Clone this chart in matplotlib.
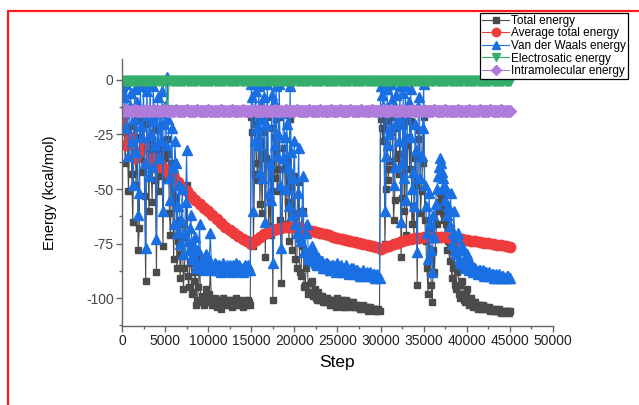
import numpy as np
import matplotlib
matplotlib.use("Agg")
import matplotlib.pyplot as plt
from matplotlib.lines import Line2D
from matplotlib.ticker import MultipleLocator

plt.rcParams["font.family"] = ["Liberation Sans", "DejaVu Sans"]
plt.rcParams["axes.unicode_minus"] = False

# MD steps: energies sampled every 125 steps, constant terms every 250, running average every 500
steps_fine = np.arange(0, 45001, 125)
steps_mid = np.arange(0, 45001, 250)
steps_coarse = np.arange(0, 45001, 500)

vdw_energy = [
    # 0 - 14875
    -3, -6, -8, -22, -2, -14, -35, -12, -6, -28, -48, -18, -4, -33, -10, -62, -52, -3, -21, -26,
    -3, -38, -77, -5, -16, -44, -2, -25, -40, -3, -19, -30, -73, -8, -36, -15, -28, -5, -60, -20,
    -12, -30, 1.5, -18, -45, -55, -22, -40, -66, -28, -38, -70, -58, -48, -75, -64, -50, -80, -70, -56,
    -32, -74, -78, -68, -62, -82, -80, -76, -72, -86, -84, -78, -66, -85, -83, -86, -87, -84, -80, -86,
    -85, -82, -70, -85, -86, -87, -84, -86, -87, -85, -85, -87, -88, -86, -84, -87, -86, -85, -87, -86,
    -85, -87, -88, -85, -86, -87, -84, -86, -87, -85, -86, -87, -88, -86, -85, -86, -87, -85, -86, -87,
    # 15000 - 29875
    -2, -8, -60, -28, -5, -22, -30, -3, -42, -12, -45, -18, -8, -65, -20, -2, -52, -38, -55, -7,
    -84, -10, -30, -3, -35, -25, -2, -48, -77, -36, -15, -26, -50, -20, -40, -58, -3, -33, -62, -45,
    -28, -66, -70, -52, -31, -72, -74, -60, -44, -79, -78, -70, -66, -82, -80, -77, -76, -83, -82, -80,
    -84, -85, -81, -84, -85, -83, -83, -86, -86, -84, -84, -86, -85, -87, -87, -85, -85, -86, -86, -88,
    -84, -86, -87, -85, -86, -88, -88, -86, -85, -87, -87, -89, -88, -86, -86, -88, -89, -87, -87, -89,
    -88, -90, -90, -88, -87, -89, -89, -88, -90, -89, -88, -90, -90, -89, -89, -91, -91, -89, -90, -91,
    # 30000 - 45000
    -3, -7, -12, -2, -60, -35, -4, -30, -25, -22, -2, -9, -48, -40, -7, -20, -18, -28, -3, -65,
    -38, -6, -45, -3, -55, -14, -10, -26, -4, -50, -42, -58, -20, -32, -79, -12, -8, -45, -35, -22,
    -2, -48, -58, -70, -82, -52, -66, -78, -88, -62, -72, -57, -50, -44, -40, -36, -38, -42, -45, -48,
    -55, -50, -62, -58, -67, -52, -75, -70, -60, -78, -80, -72, -70, -82, -84, -78, -76, -85, -86, -82,
    -80, -86, -87, -85, -84, -87, -88, -86, -86, -88, -89, -87, -87, -89, -88, -87, -90, -88, -88, -90,
    -89, -88, -90, -89, -89, -91, -91, -89, -90, -91, -89, -90, -91, -90, -90, -91, -91, -90, -90, -91,
    -91,
]

total_energy = [
    # 0 - 14875
    -18, -21, -24, -38, -16, -29, -51, -27, -21, -43, -65, -33, -19, -48, -26, -78, -68, -18, -36, -42,
    -18, -53, -92, -20, -31, -60, -17, -40, -56, -18, -34, -46, -88, -23, -51, -31, -44, -20, -76, -36,
    -28, -46, -27, -34, -61, -71, -38, -56, -82, -44, -54, -86, -74, -64, -91, -80, -66, -96, -86, -72,
    -48, -90, -95, -84, -78, -98, -97, -92, -88, -103, -101, -95, -82, -101, -99, -102, -103, -100, -96, -102,
    -101, -98, -87, -101, -103, -103, -100, -102, -104, -101, -101, -103, -105, -102, -100, -103, -102, -101, -103, -102,
    -101, -103, -104, -101, -102, -103, -100, -102, -103, -101, -102, -103, -104, -102, -101, -102, -103, -101, -102, -103,
    # 15000 - 29875
    -17, -24, -76, -43, -20, -38, -46, -18, -57, -28, -61, -33, -24, -81, -36, -17, -67, -54, -71, -22,
    -101, -26, -45, -18, -51, -41, -17, -64, -93, -51, -31, -41, -66, -36, -56, -74, -18, -49, -78, -61,
    -44, -82, -86, -68, -47, -88, -90, -76, -60, -95, -94, -86, -82, -98, -97, -93, -92, -99, -98, -96,
    -100, -101, -97, -100, -101, -99, -99, -102, -102, -100, -100, -102, -101, -103, -103, -101, -101, -102, -102, -104,
    -100, -102, -103, -101, -101, -104, -104, -102, -101, -103, -102, -104, -103, -102, -102, -104, -104, -103, -103, -104,
    -104, -105, -105, -104, -103, -104, -104, -104, -106, -105, -104, -105, -105, -105, -105, -106, -106, -105, -105, -106,
    # 30000 - 45000
    -18, -22, -28, -17, -75, -50, -19, -46, -41, -37, -17, -24, -64, -55, -22, -36, -34, -43, -18, -81,
    -54, -21, -60, -18, -71, -30, -26, -41, -19, -66, -58, -73, -36, -48, -94, -27, -23, -61, -51, -38,
    -17, -64, -74, -86, -98, -68, -82, -94, -102, -78, -88, -73, -66, -60, -56, -52, -54, -58, -61, -64,
    -71, -66, -78, -74, -83, -68, -91, -86, -76, -94, -96, -88, -86, -98, -100, -94, -92, -101, -102, -98,
    -96, -102, -103, -101, -100, -103, -104, -102, -102, -104, -105, -103, -103, -105, -104, -103, -105, -104, -104, -105,
    -105, -104, -106, -105, -105, -106, -106, -105, -106, -106, -105, -106, -107, -106, -106, -107, -106, -106, -106, -107,
    -106,
]

avg_total_energy = [
    -18, -30, -26, -36, -33, -30, -38, -36, -40, -39, -41, -43, -45, -47, -49, -51, -53, -55, -57, -58.5,
    -60, -62, -63.8, -65.5, -67.2, -69, -70.3, -71.7, -73, -74,
    -75, -73.5, -72, -70.8, -69.8, -69, -68.3, -67.8, -67.5, -67.3, -67.3, -67.6, -68.1, -68.7, -69.3,
    -69.8, -70.3, -70.8, -71.3, -71.8, -72.3, -72.8, -73.3, -73.8, -74.3, -74.8, -75.3, -75.8, -76.3, -76.8,
    -77.3, -76.6, -75.9, -75.2, -74.6, -74.0, -73.5, -73.0, -72.6, -72.3, -72.1, -72.0, -72.0, -72.0, -72.0,
    -72.1, -72.3, -72.5, -72.8, -73.1, -73.4, -73.7, -74.0, -74.3, -74.6, -74.9, -75.2, -75.5, -75.8, -76.1,
    -76.4,
]

elec_energy = [
    -0.5, -0.4, -0.6, -0.5, -0.4, -0.5, -0.6, -0.5, -0.4, -0.5, -0.5, -0.4, -0.6, -0.5, -0.4, -0.5, -0.6, -0.5, -0.4, -0.5,
    -0.5, -14, -0.5, -0.4, -0.6, -0.5, -0.5, -0.4, -0.5, -0.6, -0.5, -0.4, -0.5, -0.5, -0.6, -0.5, -0.4, -0.5, -0.5, -0.6,
    -0.5, -0.4, -0.6, -0.5, -0.5, -0.4, -0.5, -0.6, -0.5, -0.5, -0.4, -0.5, -0.6, -0.5, -0.5, -0.4, -0.5, -0.5, -0.6, -0.5,
    -0.4, -0.5, -0.5, -0.6, -0.5, -0.4, -0.5, -0.5, -0.6, -0.5, -0.5, -0.4, -0.6, -0.5, -0.5, -0.4, -0.5, -0.6, -0.5, -0.5,
    -0.4, -0.5, -0.6, -0.5, -0.5, -0.4, -0.5, -0.5, -0.6, -0.5, -0.4, -0.5, -0.5, -0.6, -0.5, -0.4, -0.5, -0.5, -0.6, -0.5,
    -0.5, -0.4, -0.6, -0.5, -0.5, -0.4, -0.5, -0.6, -0.5, -0.5, -0.4, -0.5, -0.6, -0.5, -0.5, -0.4, -0.5, -0.5, -0.6, -0.5,
    -0.4, -0.5, -0.5, -0.6, -0.5, -0.4, -0.5, -0.5, -0.6, -0.5, -0.5, -0.4, -0.6, -0.5, -0.5, -0.4, -0.5, -0.6, -0.5, -0.5,
    -0.4, -0.5, -0.6, -0.5, -0.5, -0.4, -0.5, -0.5, -0.6, -0.5, -0.4, -0.5, -0.5, -0.6, -0.5, -0.4, -0.5, -0.5, -0.6, -0.5,
    -0.5, -0.4, -0.6, -0.5, -0.5, -0.4, -0.5, -0.6, -0.5, -0.5, -0.4, -0.5, -0.6, -0.5, -0.5, -0.4, -0.5, -0.5, -0.6, -0.5,
    -0.5,
]

intra_energy = [
    -14.1, -14.2, -14.0, -14.1, -14.2, -14.1, -14.0, -14.2, -14.1, -14.1, -14.2, -14.0, -14.1, -14.2, -14.1, -14.0, -14.1, -14.2, -14.1, -14.1,
    -14.0, -14.2, -14.1, -14.1, -14.2, -14.0, -14.1, -14.1, -14.2, -14.1, -14.0, -14.2, -14.1, -14.1, -14.2, -14.0, -14.1, -14.2, -14.1, -14.1,
    -14.0, -14.1, -14.2, -14.1, -14.1, -14.2, -14.0, -14.1, -14.1, -14.2, -14.1, -14.0, -14.2, -14.1, -14.1, -14.2, -14.0, -14.1, -14.2, -14.1,
    -14.1, -14.0, -14.2, -14.1, -14.1, -14.2, -14.0, -14.1, -14.1, -14.2, -14.1, -14.0, -14.2, -14.1, -14.1, -14.2, -14.0, -14.1, -14.2, -14.1,
    -14.1, -14.0, -14.1, -14.2, -14.1, -14.1, -14.2, -14.0, -14.1, -14.1, -14.2, -14.1, -14.0, -14.2, -14.1, -14.1, -14.2, -14.0, -14.1, -14.2,
    -14.1, -14.0, -14.1, -14.2, -14.1, -14.1, -14.0, -14.2, -14.1, -14.1, -14.2, -14.0, -14.1, -14.1, -14.2, -14.1, -14.0, -14.2, -14.1, -14.1,
    -14.2, -14.0, -14.1, -14.2, -14.1, -14.0, -14.1, -14.2, -14.1, -14.1, -14.0, -14.2, -14.1, -14.1, -14.2, -14.0, -14.1, -14.1, -14.2, -14.1,
    -14.0, -14.2, -14.1, -14.1, -14.2, -14.0, -14.1, -14.2, -14.1, -14.1, -14.0, -14.1, -14.2, -14.1, -14.1, -14.2, -14.0, -14.1, -14.1, -14.2,
    -14.1, -14.0, -14.2, -14.1, -14.1, -14.2, -14.0, -14.1, -14.2, -14.1, -14.1, -14.0, -14.2, -14.1, -14.1, -14.2, -14.0, -14.1, -14.2, -14.1,
    -14.1,
]

x_ticks = [0, 5000, 10000, 15000, 20000, 25000, 30000, 35000, 40000, 45000, 50000]
y_ticks = [-100, -75, -50, -25, 0]

c_total = "#4b4b4b"
c_avg = "#ee3b3b"
c_vdw = "#1a70e2"
c_elec = "#35ad6b"
c_intra = "#b07cdc"

fig = plt.figure(figsize=(6.39, 4.05), dpi=100)
ax = fig.add_axes([0.1909, 0.195, 0.6745, 0.6593])

ax.plot(steps_fine, total_energy, color=c_total, lw=0.8, marker="s", ms=5,
        mec=c_total, mfc=c_total, label="Total energy")
ax.plot(steps_coarse, avg_total_energy, color=c_avg, lw=0.8, marker="o", ms=7.5,
        mec=c_avg, mfc=c_avg, label="Average total energy")
ax.plot(steps_fine, vdw_energy, color=c_vdw, lw=0.8, marker="^", ms=6.5,
        mec=c_vdw, mfc=c_vdw, label="Van der Waals energy")
ax.plot(steps_mid, elec_energy, color=c_elec, lw=0.8, marker="v", ms=7.5,
        mec=c_elec, mfc=c_elec, label="Electrosatic energy")
ax.plot(steps_mid, intra_energy, color=c_intra, lw=0.8, marker="D", ms=6,
        mec=c_intra, mfc=c_intra, label="Intramolecular energy")

ax.set_xlim(0, 50000)
ax.set_ylim(-112.8, 9.6)
ax.set_xticks(x_ticks)
ax.set_xticklabels([str(t) for t in x_ticks])
ax.set_yticks(y_ticks)
ax.set_yticklabels([str(t) for t in y_ticks])
ax.xaxis.set_minor_locator(MultipleLocator(2500))
ax.yaxis.set_minor_locator(MultipleLocator(12.5))

for side in ("top", "right"):
    ax.spines[side].set_visible(False)
for side in ("left", "bottom"):
    ax.spines[side].set_color("#666666")
    ax.spines[side].set_linewidth(1.0)

ax.tick_params(which="major", direction="out", length=4, width=1.0, color="#666666",
               labelsize=10, labelcolor="#222222", pad=2)
ax.tick_params(which="minor", direction="out", length=2.5, width=1.0, color="#666666")
ax.tick_params(axis="y", labelcolor="#444444")

ax.set_xlabel("Step", fontsize=12.5, labelpad=5)
ax.set_ylabel("Energy (kcal/mol)", fontsize=10.5, labelpad=21)

leg = fig.legend(loc="upper right", bbox_to_anchor=(0.983, 0.968),
                 bbox_transform=fig.transFigure, fontsize=8.5, frameon=True,
                 fancybox=False, edgecolor="black", framealpha=1,
                 borderpad=0.15, labelspacing=0.05, handlelength=2.3,
                 handletextpad=0.2, borderaxespad=0, markerscale=0.8)
leg.get_frame().set_linewidth(0.9)

# red frame along the top and left edges
fy = 1 - 11 / 405
fx = 8 / 639
fig.add_artist(Line2D([fx, fx, 1.0], [0.0, fy, fy], transform=fig.transFigure,
                      color="#ff1a1a", lw=1.6))

fig.savefig("out.png", dpi=100)
